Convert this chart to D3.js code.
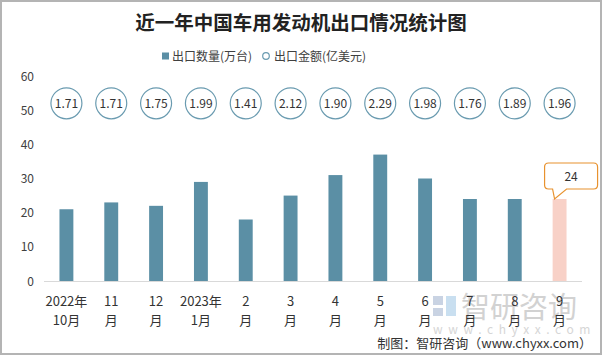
<!DOCTYPE html>
<html><head><meta charset="utf-8">
<script src="https://cdn.jsdelivr.net/npm/d3@7/dist/d3.min.js"></script>
<style>
html,body{margin:0;padding:0;background:#fff;}
svg{display:block;font-family:"Noto Sans CJK SC","Noto Sans",sans-serif;}
</style></head>
<body>
<svg id="chart" width="602" height="355"></svg>
<script>
const labelLine1 = ["2022年","11","12","2023年","2","3","4","5","6","7","8","9"];
const labelLine2 = ["10月","月","月","1月","月","月","月","月","月","月","月","月"];
const quantity = [21,23,22,29,18,25,31,37,30,24,24,24];
const amount = ["1.71","1.71","1.75","1.99","1.41","2.12","1.90","2.29","1.98","1.76","1.89","1.96"];
const yTicks = [0,10,20,30,40,50,60];
const highlightIndex = 11;
const amountRow = 52;

const svg = d3.select("#chart");
const W = 602, H = 355;
svg.append("rect").attr("x",1).attr("y",1).attr("width",W-2).attr("height",H-2)
  .attr("fill","#fff").attr("stroke","#b4b4b4").attr("stroke-width",2);

const idx = d3.range(quantity.length);
const x = d3.scaleBand().domain(idx).range([44,582]).paddingInner(0.69).paddingOuter(0.345);
const y = d3.scaleLinear().domain([0,60]).range([281,76]);

// title
svg.append("text").attr("x",W/2).attr("y",30).attr("text-anchor","middle")
  .attr("font-size",19.5).attr("font-weight","bold").attr("fill","#222")
  .text("近一年中国车用发动机出口情况统计图");

// legend
const barColor = "#5b8fa5", circColor = "#6a9bb0";
svg.append("rect").attr("x",162).attr("y",52.5).attr("width",7).attr("height",7).attr("fill",barColor);
svg.append("text").attr("x",172).attr("y",60.5).attr("font-size",12).attr("fill","#404040").text("出口数量(万台)");
svg.append("circle").attr("cx",266).attr("cy",56).attr("r",3.3).attr("fill","#fff").attr("stroke",circColor).attr("stroke-width",1.2);
svg.append("text").attr("x",274).attr("y",60.5).attr("font-size",12).attr("fill","#404040").text("出口金额(亿美元)");

// watermark
const wm = svg.append("g").attr("fill","#d0d0d0");
wm.append("rect").attr("x",433).attr("y",296).attr("width",10).attr("height",9).attr("fill","#c9d3e3");
wm.append("rect").attr("x",446).attr("y",296).attr("width",10).attr("height",20).attr("fill","#c9dff0");
wm.append("rect").attr("x",433).attr("y",308).attr("width",10).attr("height",8).attr("fill","#c9d3e3");
wm.append("text").attr("x",461).attr("y",318).attr("font-size",29).attr("fill","#d2d2d2").text("智研咨询");
wm.append("text").attr("x",433).attr("y",334).attr("font-size",12).attr("letter-spacing",5.6).attr("fill","#d6d6d6").text("www.chyxx.com");

// y axis labels
svg.append("g").selectAll("text").data(yTicks).join("text")
  .attr("x",34).attr("y",d=>y(d)+4.5).attr("text-anchor","end")
  .attr("font-size",12).attr("fill","#404040").text(d=>d);

// baseline
svg.append("line").attr("x1",44).attr("x2",582).attr("y1",y(0)+0.5).attr("y2",y(0)+0.5)
  .attr("stroke","#d9d9d9").attr("stroke-width",1);

// bars
svg.append("g").selectAll("rect").data(idx).join("rect")
  .attr("x",i=>x(i)).attr("width",x.bandwidth())
  .attr("y",i=>y(quantity[i])).attr("height",i=>y(0)-y(quantity[i]))
  .attr("fill",i=>i===highlightIndex?"#f8d1c7":barColor);

// amount circles
const cg = svg.append("g").selectAll("g").data(idx).join("g")
  .attr("transform",i=>`translate(${x(i)+x.bandwidth()/2},${y(amountRow)})`);
cg.append("circle").attr("r",15.5).attr("fill","#fff").attr("stroke",circColor).attr("stroke-width",1.2);
cg.append("text").attr("y",4.3).attr("text-anchor","middle").attr("font-size",12).attr("fill","#333")
  .text(i=>amount[i]);

// callout for highlighted bar
{
  const cx = x(highlightIndex)+x.bandwidth()/2;
  const tipY = y(quantity[highlightIndex]);
  const bx = cx-15, bw = 53, by = tipY-36, bh = 26, r = 4;
  const p = d3.path();
  p.moveTo(bx+r,by);
  p.lineTo(bx+bw-r,by); p.quadraticCurveTo(bx+bw,by,bx+bw,by+r);
  p.lineTo(bx+bw,by+bh-r); p.quadraticCurveTo(bx+bw,by+bh,bx+bw-r,by+bh);
  p.lineTo(cx+7,by+bh); p.lineTo(cx-5,tipY); p.lineTo(cx-7+0,by+bh);
  p.lineTo(bx+r,by+bh); p.quadraticCurveTo(bx,by+bh,bx,by+bh-r);
  p.lineTo(bx,by+r); p.quadraticCurveTo(bx,by,bx+r,by);
  p.closePath();
  svg.append("path").attr("d",p.toString()).attr("fill","#fff").attr("stroke","#e8922e").attr("stroke-width",1.2);
  svg.append("text").attr("x",bx+bw/2).attr("y",by+bh/2+4.5).attr("text-anchor","middle")
    .attr("font-size",12).attr("fill","#333").text(quantity[highlightIndex]);
}

// x labels
const xl = svg.append("g").selectAll("g").data(idx).join("g")
  .attr("transform",i=>`translate(${x(i)+x.bandwidth()/2},0)`);
xl.append("text").attr("y",306).attr("text-anchor","middle").attr("font-size",13).attr("fill","#333").text(i=>labelLine1[i]);
xl.append("text").attr("y",325).attr("text-anchor","middle").attr("font-size",13).attr("fill","#333").text(i=>labelLine2[i]);

// footer
svg.append("text").attr("x",592).attr("y",348).attr("text-anchor","end")
  .attr("font-size",13).attr("fill","#333").text("制图：智研咨询（www.chyxx.com）");
</script>
</body></html>
